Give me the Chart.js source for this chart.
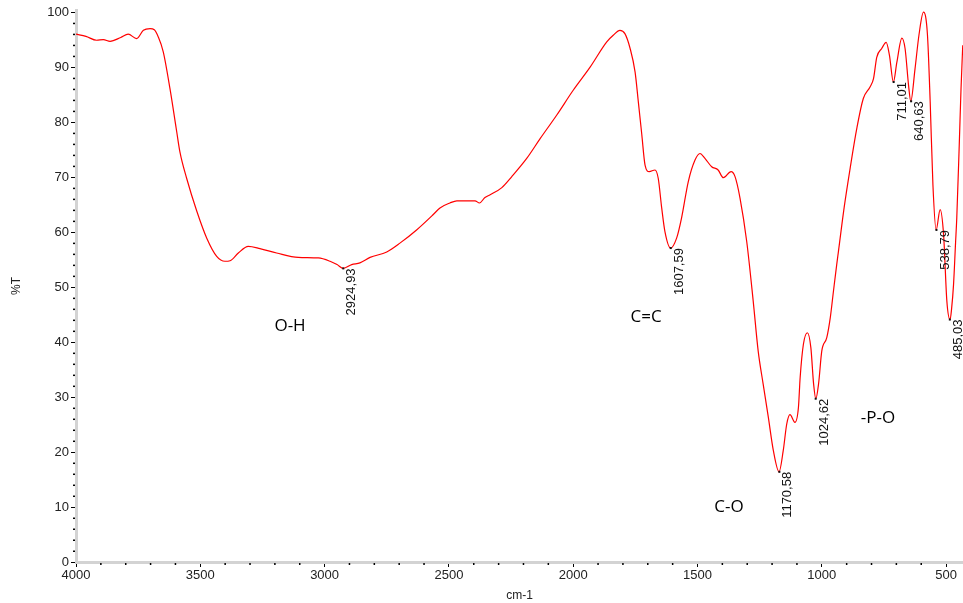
<!DOCTYPE html>
<html>
<head>
<meta charset="utf-8">
<script src="https://cdn.jsdelivr.net/npm/chart.js@4/dist/chart.umd.min.js"></script>
<style>
  html, body { margin: 0; padding: 0; background: #fff; }
  #contenedor { width: 963px; height: 603px; }
</style>
</head>
<body>
<div id="contenedor"><canvas id="grafico"></canvas></div>
<script>
// Espectro FTIR: numero de onda (cm-1) y transmitancia (%T)
const numerosDeOnda = [4000, 3960, 3917, 3890, 3863, 3820, 3790, 3756, 3729, 3702, 3685, 3669, 3649, 3622, 3595, 3582, 3555, 3514, 3474, 3434, 3401, 3380, 3347, 3307, 3260, 3193, 3106, 3025, 2978, 2950, 2925, 2891, 2858, 2817, 2750, 2697, 2630, 2563, 2536, 2496, 2468, 2395, 2377, 2355, 2334, 2287, 2247, 2187, 2133, 2066, 2000, 1932, 1865, 1839, 1812, 1792, 1771, 1751, 1738, 1724, 1711, 1694, 1671, 1658, 1644, 1631, 1608, 1584, 1564, 1537, 1510, 1490, 1470, 1443, 1417, 1396, 1365, 1349, 1329, 1302, 1276, 1256, 1236, 1215, 1195, 1172, 1155, 1141, 1128, 1108, 1094, 1087, 1074, 1058, 1044, 1033, 1024, 1013, 1000, 980, 966, 953, 940, 933, 910, 886, 859, 833, 806, 792, 779, 759, 741, 728, 712, 698, 678, 665, 651, 642, 625, 609, 591, 575, 564, 553, 540, 524, 510, 497, 484, 478, 470, 462, 457, 447, 440, 433];
const transmitancia = [96.0, 95.6, 94.9, 95.0, 94.7, 95.4, 96.0, 95.2, 96.7, 97.0, 96.8, 95.5, 92.8, 86.1, 78.3, 74.6, 69.8, 63.8, 58.9, 55.6, 54.7, 54.8, 56.2, 57.4, 57.0, 56.2, 55.4, 55.3, 54.7, 54.1, 53.4, 54.1, 54.4, 55.4, 56.4, 58.0, 60.4, 63.2, 64.4, 65.3, 65.7, 65.7, 65.3, 66.3, 66.8, 68.1, 70.1, 73.4, 77.0, 81.3, 85.8, 90.0, 94.6, 95.8, 96.7, 96.1, 93.4, 89.1, 83.7, 77.7, 72.2, 71.0, 71.3, 69.8, 64.4, 60.1, 57.1, 58.9, 62.6, 69.2, 73.1, 74.3, 73.4, 71.9, 71.3, 69.9, 71.0, 70.1, 66.2, 58.3, 47.5, 38.4, 32.4, 26.3, 20.3, 16.4, 20.3, 25.1, 26.8, 25.4, 28.1, 33.6, 39.6, 41.7, 39.0, 32.4, 29.7, 32.4, 38.4, 40.8, 44.4, 49.3, 54.1, 56.5, 64.5, 71.6, 78.9, 84.3, 86.4, 87.9, 91.8, 93.4, 94.5, 92.2, 87.3, 90.9, 95.3, 93.4, 86.7, 83.8, 89.7, 95.9, 100.0, 95.9, 83.7, 68.6, 60.4, 64.1, 59.5, 47.5, 44.1, 46.0, 50.5, 58.0, 62.6, 76.0, 86.0, 94.0];

// Picos marcados
const picosPosicion = [2924.93, 1607.59, 1170.58, 1024.62, 711.01, 640.63, 538.79, 485.03];
const picosValor = [53.4, 57.1, 16.4, 29.7, 87.3, 83.8, 60.4, 44.1];
const picosEtiqueta = ['2924,93', '1607,59', '1170,58', '1024,62', '711,01', '640,63', '538,79', '485,03'];

// Grupos funcionales
const gruposTexto = ['O-H', 'C=C', 'C-O', '-P-O'];
const gruposPosicion = [3139, 1707, 1373, 774];
const gruposValor = [42.9, 44.6, 10.0, 26.1];

const ticksX = [4000, 3500, 3000, 2500, 2000, 1500, 1000, 500];
const ticksY = [0, 10, 20, 30, 40, 50, 60, 70, 80, 90, 100];

const fuente = '"Liberation Sans", Arial, sans-serif';

const pluginMarcas = {
  id: 'marcasMenores',
  afterDraw: (chart) => {
    const { ctx, chartArea, scales: { x, y } } = chart;
    ctx.save();
    ctx.fillStyle = '#000';
    for (let v = 2; v < 100; v += 2) {
      if (v % 10 === 0) continue;
      const py = y.getPixelForValue(v);
      ctx.fillRect(chartArea.left - 3, py - 0.5, 2, 1.5);
    }
    for (let w = 600; w < 4000; w += 100) {
      if (w % 500 === 0) continue;
      const px = x.getPixelForValue(w);
      ctx.fillRect(px - 0.75, chartArea.bottom + 1, 1.5, 2);
    }
    ctx.restore();
  }
};

const pluginAnotaciones = {
  id: 'anotaciones',
  afterDatasetsDraw: (chart) => {
    const { ctx, scales: { x, y } } = chart;
    ctx.save();
    ctx.fillStyle = '#111';
    ctx.font = '13px ' + fuente;
    picosPosicion.forEach((p, i) => {
      const px = x.getPixelForValue(p);
      const py = y.getPixelForValue(picosValor[i]);
      ctx.fillRect(px - 1, py - 1, 2, 2); // marca del pico
      ctx.save();
      ctx.translate(px + 2, py);
      ctx.rotate(-Math.PI / 2);
      ctx.textAlign = 'right';
      ctx.textBaseline = 'top';
      ctx.fillText(picosEtiqueta[i], 0, 0);
      ctx.restore();
    });
    ctx.font = '17px "Open Sans", sans-serif';
    ctx.fillStyle = '#000';
    ctx.textAlign = 'center';
    ctx.textBaseline = 'middle';
    gruposTexto.forEach((t, i) => {
      ctx.fillText(t, x.getPixelForValue(gruposPosicion[i]), y.getPixelForValue(gruposValor[i]));
    });
    ctx.restore();
  }
};

const puntos = numerosDeOnda.map((w, i) => ({ x: w, y: transmitancia[i] }));

new Chart(document.getElementById('grafico'), {
  type: 'scatter',
  data: {
    datasets: [{
      data: puntos,
      showLine: true,
      borderColor: '#ff0000',
      borderWidth: 1.2,
      pointRadius: 0,
      cubicInterpolationMode: 'monotone'
    }]
  },
  options: {
    responsive: true,
    maintainAspectRatio: false,
    animation: false,
    layout: { padding: { top: 10, right: 0, left: 0, bottom: 0 } },
    plugins: {
      legend: { display: false },
      tooltip: { enabled: false }
    },
    scales: {
      x: {
        type: 'linear',
        reverse: true,
        min: 432,
        max: 4000,
        afterBuildTicks: (s) => { s.ticks = ticksX.map(v => ({ value: v })); },
        afterFit: (s) => { s.height = 41; },
        ticks: {
          autoSkip: false,
          maxRotation: 0,
          color: '#222',
          padding: 1,
          font: { size: 13, family: fuente },
          callback: (v) => String(v)
        },
        grid: { drawOnChartArea: false, drawTicks: true, tickLength: 5, tickColor: '#000' },
        border: { display: true, color: '#d3d3d3', width: 3 },
        title: { display: true, text: 'cm-1', color: '#222', padding: 0, font: { size: 12, family: fuente } }
      },
      y: {
        min: 0,
        max: 100.4,
        afterBuildTicks: (s) => { s.ticks = ticksY.map(v => ({ value: v })); },
        afterFit: (s) => { s.width = 76; },
        ticks: {
          color: '#222',
          padding: 2,
          font: { size: 13, family: fuente },
          callback: (v) => String(v)
        },
        grid: { drawOnChartArea: false, drawTicks: true, tickLength: 5, tickColor: '#000' },
        border: { display: true, color: '#d3d3d3', width: 3 },
        title: { display: true, text: '%T', color: '#222', padding: { top: 9, bottom: 0 }, font: { size: 12, family: fuente } }
      }
    }
  },
  plugins: [pluginMarcas, pluginAnotaciones]
});
</script>
</body>
</html>
